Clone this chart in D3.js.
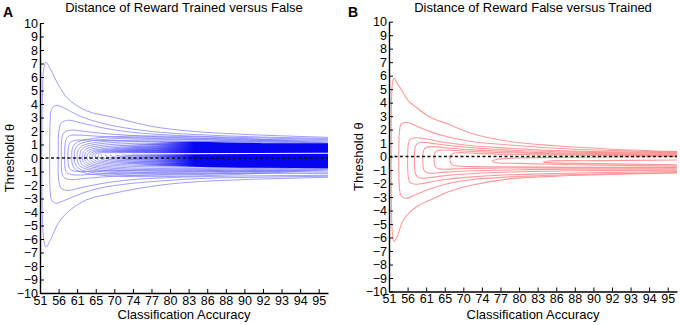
<!DOCTYPE html>
<html>
<head>
<meta charset="utf-8">
<script src="https://cdn.jsdelivr.net/npm/d3@7"></script>
<style>
  body { margin: 0; background: #fff; }
  text { font-family: Arial, "Liberation Sans", sans-serif; fill: #000; }
</style>
</head>
<body>
<div id="chart"></div>
<script>
// tick labels (x axis is evenly spaced by index, not by value)
var accuracyTicks = [51, 56, 61, 65, 70, 74, 77, 80, 83, 86, 88, 90, 92, 93, 94, 95]
var thresholdTicks = [-10, -9, -8, -7, -6, -5, -4, -3, -2, -1, 0, 1, 2, 3, 4, 5, 6, 7, 8, 9, 10]

// contours: x in tick-index units (0 = 51 ... 15 = 95), y = threshold
// tip = leftmost point, rows = [x, upper branch, lower branch]
var contoursA = [
  { tip: [0.1, 0], rows: [[0.13, 4.5, -4.5], [0.2, 6.6, -6.0], [0.32, 7.1, -6.6], [0.55, 6.6, -6.1], [1.0, 5.4, -4.8],
    [1.5, 4.4, -4.0], [2.5, 3.5, -3.1], [4, 3.0, -2.6], [6, 2.35, -2.1], [8, 2.0, -1.8], [11, 1.75, -1.6], [15.5, 1.53, -1.43]] },
  { tip: [0.52, 0.2], rows: [[0.55, 2.8, -2.5], [0.62, 3.6, -3.1], [0.85, 3.9, -3.35], [1.3, 3.7, -3.15], [2, 3.2, -2.75],
    [3, 2.7, -2.3], [4.5, 2.25, -1.95], [6.5, 1.9, -1.7], [9, 1.7, -1.5], [12, 1.55, -1.42], [15.5, 1.45, -1.35]] },
  { tip: [0.98, 0.2], rows: [[1.02, 2.0, -1.8], [1.15, 2.6, -2.25], [1.5, 2.8, -2.4], [2.2, 2.6, -2.2], [3.5, 2.2, -1.85],
    [5, 1.9, -1.6], [7, 1.7, -1.45], [10, 1.55, -1.35], [15.5, 1.38, -1.28]] },
  { tip: [1.15, 0.2], rows: [[1.2, 1.6, -1.2], [1.35, 1.95, -1.5], [1.7, 2.07, -1.6], [2.5, 1.95, -1.5], [4, 1.75, -1.35],
    [6, 1.6, -1.25], [9, 1.45, -1.15], [15.5, 1.32, -1.15]] },
  { tip: [1.33, 0.2], rows: [[1.4, 1.35, -1.0], [1.6, 1.65, -1.2], [2.0, 1.7, -1.26], [3, 1.62, -1.2], [5, 1.5, -1.1],
    [8, 1.38, -1.0], [15.5, 1.25, -1.05]] },
  { tip: [1.5, 0.2], rows: [[1.6, 1.1, -0.8], [1.85, 1.3, -0.97], [2.3, 1.33, -1.0], [3.5, 1.3, -0.95], [6, 1.25, -0.9],
    [15.5, 1.18, -0.95]] }
]

// inner contours of A: [tip x, tip y, arc top, arc bottom, top at right edge, bottom at right edge]
var innerA = [
  [1.71, 0.12, 1.13, -0.89, 1.1, -0.85],
  [1.85, 0.12, 1.01, -0.79, 1.05, -0.8],
  [2.0, 0.12, 0.89, -0.69, 1.0, -0.75],
  [2.14, 0.1, 0.79, -0.62, 0.95, -0.7],
  [2.27, 0.1, 0.69, -0.54, 0.9, -0.65],
  [2.39, 0.1, 0.6, -0.47, 0.85, -0.6],
  [2.52, 0.1, 0.52, -0.4, 0.8, -0.55],
  [2.66, 0.1, 0.47, -0.32, 0.75, -0.5],
  [2.8, 0.12, 0.44, -0.25, 0.7, -0.45],
  [2.95, 0.14, 0.42, -0.18, 0.65, -0.4],
  [3.12, 0.16, 0.41, -0.12, 0.6, -0.3],
  [3.3, 0.2, 0.4, -0.05, 0.55, -0.2],
  [3.5, 0.22, 0.4, 0.02, 0.5, -0.1],
  [3.75, 0.25, 0.4, 0.08, 0.46, 0.0],
  [4.05, 0.28, 0.4, 0.14, 0.43, 0.1],
  [4.4, 0.3, 0.39, 0.2, 0.41, 0.2],
  [4.9, 0.32, 0.38, 0.25, 0.4, 0.27],
  [5.6, 0.34, 0.37, 0.3, 0.38, 0.32]
]

// the saturated part of A, where the lines run together
var bandXA = [3.8, 5, 6.5, 8.3, 10, 12, 15.5]
var bandTopA = [0.9, 1.0, 1.15, 1.2, 1.15, 1.1, 1.09]
var bandBotA = [-0.3, -0.45, -0.6, -0.64, -0.7, -0.72, -0.75]
var gapXA = [3.3, 15.5]
var gapYA = [0.3, 0.35]

var contoursB = [
  { tip: [0.12, 0], rows: [[0.14, 4.5, -4.5], [0.19, 5.5, -5.8], [0.27, 5.8, -6.3], [0.45, 5.4, -5.9], [0.7, 4.9, -4.9],
    [1.0, 4.2, -4.3], [1.5, 3.6, -3.7], [2.25, 2.9, -3.2], [3.2, 2.4, -2.6], [4.5, 1.7, -2.1], [6.5, 1.12, -1.65],
    [9, 0.8, -1.45], [12, 0.55, -1.32], [15.5, 0.38, -1.22]] },
  { tip: [0.53, -0.2], rows: [[0.56, 1.8, -2.3], [0.65, 2.4, -2.9], [0.94, 2.55, -3.1], [1.4, 2.3, -2.85], [2.2, 1.85, -2.4],
    [3.2, 1.45, -2.0], [4.5, 1.1, -1.7], [6.5, 0.86, -1.5], [9, 0.62, -1.36], [12, 0.45, -1.27], [15.5, 0.33, -1.18]] },
  { tip: [1.0, -0.3], rows: [[1.05, 1.0, -1.6], [1.15, 1.3, -1.95], [1.45, 1.4, -2.05], [2.0, 1.3, -1.95], [3, 1.05, -1.7],
    [4.5, 0.8, -1.5], [6.5, 0.62, -1.35], [9, 0.45, -1.25], [12, 0.35, -1.17], [15.5, 0.28, -1.1]] },
  { tip: [1.37, -0.3], rows: [[1.42, 0.75, -1.25], [1.55, 0.98, -1.52], [1.85, 1.06, -1.61], [2.5, 0.95, -1.5], [3.5, 0.78, -1.35],
    [5, 0.6, -1.22], [7, 0.45, -1.12], [10, 0.33, -1.05], [15.5, 0.23, -1.0]] },
  { tip: [1.82, -0.3], rows: [[1.88, 0.5, -1.0], [2.0, 0.68, -1.18], [2.3, 0.74, -1.24], [3, 0.66, -1.15], [4.5, 0.5, -1.05],
    [7, 0.35, -0.98], [10, 0.25, -0.93], [15.5, 0.17, -0.92]] },
  { tip: [2.42, -0.25], rows: [[2.5, 0.35, -0.75], [2.65, 0.46, -0.9], [3.0, 0.49, -0.94], [4, 0.42, -0.88], [6, 0.3, -0.85],
    [9, 0.2, -0.84], [15.5, 0.12, -0.85]] },
  { tip: [3.28, -0.2], rows: [[3.4, 0.2, -0.6], [3.7, 0.29, -0.7], [5, 0.22, -0.75], [8, 0.13, -0.78], [15.5, 0.07, -0.8]] },
  { tip: [5.56, -0.33], rows: [[5.8, -0.22, -0.45], [7, -0.1, -0.5], [10, -0.05, -0.6], [15.5, 0.0, -0.7]] },
  { tip: [8.3, -0.4], rows: [[8.6, -0.33, -0.45], [11, -0.3, -0.52], [15.5, -0.25, -0.6]] }
]

var svg = d3.select("#chart").append("svg")
  .attr("width", 680)
  .attr("height", 325)

var defs = svg.append("defs")

function contourPoints(c) {
  var upper = c.rows.map(function(r) { return [r[0], r[1]] }).reverse()
  var lower = c.rows.map(function(r) { return [r[0], r[2]] })
  return upper.concat([c.tip], lower)
}

function drawPanel(opt) {
  var x = d3.scaleLinear().domain([0, 15.5]).range([opt.left, opt.right])
  var y = d3.scaleLinear().domain([-10, 10]).range([opt.bottom, opt.top])
  var g = svg.append("g")

  defs.append("clipPath").attr("id", "clip" + opt.name)
    .append("rect")
    .attr("x", opt.left).attr("y", opt.top)
    .attr("width", opt.right - opt.left).attr("height", opt.bottom - opt.top)

  var plot = g.append("g").attr("clip-path", "url(#clip" + opt.name + ")")

  var line = d3.line()
    .x(function(d) { return x(d[0]) })
    .y(function(d) { return y(d[1]) })
    .curve(d3.curveCatmullRom.alpha(0.5))

  plot.selectAll(".contour")
    .data(opt.contours)
    .enter().append("path")
    .attr("class", "contour")
    .attr("d", function(d) { return line(contourPoints(d)) })
    .attr("fill", "none")
    .attr("stroke", opt.color)
    .attr("stroke-opacity", opt.lineOpacity)
    .attr("stroke-width", opt.lineWidth)

  if (opt.bandX) {
    var grad = defs.append("linearGradient")
      .attr("id", "grad" + opt.name)
      .attr("gradientUnits", "userSpaceOnUse")
      .attr("x1", x(opt.bandX[0])).attr("x2", x(opt.bandX[3]))
      .attr("y1", 0).attr("y2", 0)
    grad.append("stop").attr("offset", 0).attr("stop-color", opt.bandColor).attr("stop-opacity", 0)
    grad.append("stop").attr("offset", 0.55).attr("stop-color", opt.bandColor).attr("stop-opacity", 0.35)
    grad.append("stop").attr("offset", 1).attr("stop-color", opt.bandColor).attr("stop-opacity", 1)

    var area = d3.area()
      .x(function(d, i) { return x(opt.bandX[i]) })
      .y0(function(d, i) { return y(opt.bandBot[i]) })
      .y1(function(d, i) { return y(opt.bandTop[i]) })
      .curve(d3.curveMonotoneX)

    plot.append("path")
      .datum(opt.bandX)
      .attr("d", area)
      .attr("fill", "url(#grad" + opt.name + ")")

    plot.append("path")
      .datum(opt.gapX.map(function(v, i) { return [v, opt.gapY[i]] }))
      .attr("d", d3.line().x(function(d) { return x(d[0]) }).y(function(d) { return y(d[1]) }))
      .attr("stroke", "#fff")
      .attr("stroke-width", 1.2)
      .attr("fill", "none")
  }

  // dashed zero line
  plot.append("line")
    .attr("x1", x(0)).attr("x2", x(15.5))
    .attr("y1", y(0)).attr("y2", y(0))
    .attr("stroke", "#111")
    .attr("stroke-width", 1.5)
    .attr("stroke-dasharray", "3,2.5")

  var yAxis = d3.axisLeft(y)
    .tickValues(thresholdTicks)
    .tickSizeInner(-4)
    .tickSizeOuter(0)
    .tickPadding(2)
  g.append("g")
    .attr("class", "axis y-axis")
    .attr("transform", "translate(" + opt.left + ",0)")
    .call(yAxis)

  var xAxis = d3.axisBottom(x)
    .tickValues(d3.range(accuracyTicks.length))
    .tickFormat(function(i) { return accuracyTicks[i] })
    .tickSizeInner(-4)
    .tickSizeOuter(0)
    .tickPadding(3)
  g.append("g")
    .attr("class", "axis x-axis")
    .attr("transform", "translate(0," + opt.bottom + ")")
    .call(xAxis)

  g.selectAll(".axis path").attr("stroke", "#000").attr("stroke-width", 1.4)
  g.selectAll(".axis line").attr("stroke", "#000").attr("stroke-width", 1)
  g.selectAll(".axis text").style("font-size", "12.5px").attr("fill", "#000")

  g.append("text")
    .attr("x", (opt.left + opt.right) / 2)
    .attr("y", 12)
    .attr("text-anchor", "middle")
    .style("font-size", "13px")
    .text(opt.title)

  g.append("text")
    .attr("x", (opt.left + opt.right) / 2)
    .attr("y", 319)
    .attr("text-anchor", "middle")
    .style("font-size", "13px")
    .text("Classification Accuracy")

  g.append("text")
    .attr("transform", "translate(" + (opt.left - 26) + "," + y(0) + ") rotate(-90)")
    .attr("text-anchor", "middle")
    .style("font-size", "13px")
    .text("Threshold θ")

  g.append("text")
    .attr("x", opt.letterX)
    .attr("y", 16.5)
    .style("font-size", "14px")
    .style("font-weight", "bold")
    .text(opt.name)
}

drawPanel({
  name: "A", left: 40, right: 328, top: 23, bottom: 293, letterX: 3,
  title: "Distance of Reward Trained versus False",
  color: "#6f6fff", lineOpacity: 0.75, lineWidth: 0.9,
  contours: contoursA.concat(innerA.map(function(r) {
    return { tip: [r[0], r[1]], rows: [[r[0] + 0.25, r[2], r[3]], [15.5, r[4], r[5]]] }
  })),
  bandX: bandXA, bandTop: bandTopA, bandBot: bandBotA, bandColor: "#0505f0",
  gapX: gapXA, gapY: gapYA
})

drawPanel({
  name: "B", left: 389, right: 677, top: 21.7, bottom: 291.5, letterX: 348,
  title: "Distance of Reward False versus Trained",
  color: "#ff8080", lineOpacity: 0.8, lineWidth: 1.1,
  contours: contoursB
})
</script>
</body>
</html>
